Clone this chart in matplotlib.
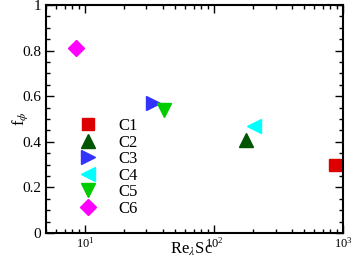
import numpy as np
import matplotlib
matplotlib.use("Agg")
import matplotlib.pyplot as plt
from matplotlib.ticker import LogLocator, MultipleLocator, NullFormatter

# data
cases = ["C1", "C2", "C3", "C4", "C5", "C6"]
re_sc = [870, 178, 34, 205, 41, 8.5]
f_phi = [0.30, 0.41, 0.57, 0.47, 0.54, 0.81]
markers = ["s", "^", ">", "<", "v", "D"]
colors = ["#dd0000", "#005500", "#3333ff", "#00ffff", "#00cc00", "#ff00ff"]
sizes = [9, 10, 10, 10, 10, 8]

plt.rcParams["font.family"] = ["Liberation Serif", "DejaVu Serif"]
plt.rcParams["mathtext.fontset"] = "stix"

fig = plt.figure(figsize=(3.54, 2.66), dpi=100)
ax = fig.add_axes([46 / 354, 1 - 233 / 266, 297 / 354, 228 / 266])

for c, x, y, m, col, s in zip(cases, re_sc, f_phi, markers, colors, sizes):
    ax.plot(x, y, linestyle="none", marker=m, color=col, markersize=s, label=c)

ax.set_xscale("log")
ax.set_xlim(5, 1000)
ax.set_ylim(0, 1)
ax.yaxis.set_major_locator(MultipleLocator(0.2))
ax.yaxis.set_minor_locator(MultipleLocator(0.05))
ax.xaxis.set_minor_locator(LogLocator(base=10, subs=np.arange(2, 10)))
ax.xaxis.set_minor_formatter(NullFormatter())
ax.set_yticks([0, 0.2, 0.4, 0.6, 0.8, 1])
ax.set_yticklabels(["0", "0.2", "0.4", "0.6", "0.8", "1"])

ax.tick_params(which="both", direction="in", top=True, right=True, width=1)
ax.tick_params(which="major", length=6, labelsize=11)
ax.tick_params(which="minor", length=3)
ax.tick_params(axis="x", labelsize=9, pad=2)
for sp in ax.spines.values():
    sp.set_linewidth(1.5)

ax.set_xlabel(r"Re$_\lambda$Sc", fontsize=12)
ax.xaxis.set_label_coords(0.49, -0.035)
ax.set_ylabel(r"f$_\phi$", fontsize=12)
ax.yaxis.set_label_coords(-0.055, 0.5)

ax.legend(loc="lower left", bbox_to_anchor=(0.06, 0.02), frameon=False,
          fontsize=12, handletextpad=1.1, labelspacing=0.03, borderpad=0.2,
          handlelength=1.5)

fig.savefig("out.png", dpi=100)
